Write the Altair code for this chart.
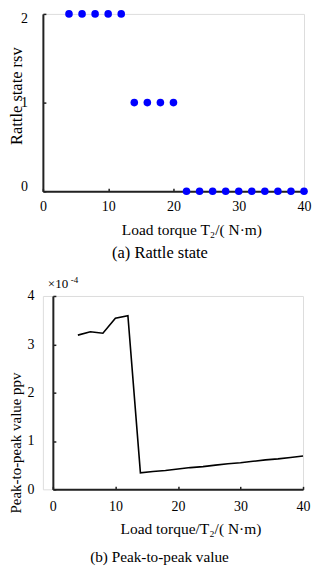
import altair as alt
import pandas as pd

# (a) Rattle state
torque_a = [4, 6, 8, 10, 12, 14, 16, 18, 20, 22, 24, 26, 28, 30, 32, 34, 36, 38, 40]
rsv = [2, 2, 2, 2, 2, 1, 1, 1, 1, 0, 0, 0, 0, 0, 0, 0, 0, 0, 0]

# (b) Peak-to-peak value (x1e-4)
torque_b = [4, 6, 8, 10, 12, 14, 16, 18, 20, 22, 24, 26, 28, 30, 32, 34, 36, 38, 40]
ppv = [3.19, 3.26, 3.23, 3.54, 3.59, 0.34, 0.37, 0.39, 0.42, 0.45, 0.47, 0.50,
       0.53, 0.55, 0.58, 0.61, 0.63, 0.66, 0.69]

ticks_x = [0, 10, 20, 30, 40]
ticks_a_y = [0, 1, 2]
ticks_b_y = [0, 1, 2, 3, 4]

FONT = "Liberation Serif"
AX = "#222222"

df_a = pd.DataFrame({"T": torque_a, "rsv": rsv})
df_b = pd.DataFrame({"T": torque_b, "ppv": ppv})
df_ylab_a = pd.DataFrame({"v": ticks_a_y})

axis_common = dict(
    labelFont=FONT, labelFontSize=14, labelColor="black", labelOverlap=False,
    titleFont=FONT, titleFontWeight="normal", titleColor="black",
    domainColor=AX, domainWidth=2, ticks=False, grid=False,
)


def inner_ticks(values, orient, offset):
    return alt.Axis(values=values, orient=orient, offset=offset, domain=False, labels=False,
                    ticks=True, tickSize=3, tickWidth=1.5, tickColor=AX, grid=False, title=None)


xa_scale = alt.Scale(domain=[0, 40], nice=False)
ya_scale = alt.Scale(domain=[0, 2], nice=False)

points_a = alt.Chart(df_a).mark_circle(size=58, color="#0000ff", opacity=1, clip=False).encode(
    x=alt.X("T:Q", scale=xa_scale,
            axis=alt.Axis(orient="bottom", values=ticks_x, title="Load torque T₂/( N·m)",
                          labelPadding=8, labelFlush=False, titleFontSize=15.5, titleX=149,
                          titlePadding=9, **axis_common)),
    y=alt.Y("rsv:Q", scale=ya_scale,
            axis=alt.Axis(orient="left", values=ticks_a_y, labels=False, title="Rattle state rsv",
                          titleFontSize=16.5, titleX=-18, titleY=82, **axis_common)),
)

ticks_a = alt.Chart(df_a).mark_point(opacity=0).encode(
    x=alt.X("T:Q", scale=xa_scale, axis=inner_ticks(ticks_x, "bottom", -3)),
    y=alt.Y("rsv:Q", scale=ya_scale, axis=inner_ticks(ticks_a_y, "left", -3)),
)


def ylabel_layer(value, baseline, dy):
    return alt.Chart(df_ylab_a).transform_filter(alt.datum.v == value).mark_text(
        font=FONT, fontSize=14, align="right", baseline=baseline, dy=dy, color="black"
    ).encode(
        x=alt.value(-15),
        y=alt.Y("v:Q", scale=ya_scale, axis=None),
        text=alt.Text("v:Q", format="d"),
    )


ylab_top = ylabel_layer(2, "top", -2)
ylab_mid = ylabel_layer(1, "middle", 0)
ylab_bot = ylabel_layer(0, "bottom", 3)

chart_a = alt.layer(ticks_a, points_a, ylab_top, ylab_mid, ylab_bot).resolve_axis(
    x="independent", y="independent"
).properties(
    width=262, height=178,
    title=alt.TitleParams("(a) Rattle state", orient="bottom", font=FONT, fontSize=16.5,
                          fontWeight="normal", color="black", offset=7, frame="bounds"),
)

xb_scale = alt.Scale(domain=[0, 40], range=[10, 261], nice=False)
yb_scale = alt.Scale(domain=[0, 4], nice=False)

line_b = alt.Chart(df_b).mark_line(color="black", strokeWidth=1.6).encode(
    x=alt.X("T:Q", scale=xb_scale,
            axis=alt.Axis(orient="bottom", values=ticks_x, title="Load torque/T₂/( N·m)",
                          labelPadding=10, labelFlush=False, titleFontSize=15.5, titleX=148,
                          titlePadding=8, **axis_common)),
    y=alt.Y("ppv:Q", scale=yb_scale,
            axis=alt.Axis(orient="left", values=ticks_b_y, format="d",
                          title="Peak-to-peak value ppv", labelPadding=19, labelFlush=False,
                          titleFontSize=15, offset=-10, titleX=-29, titleY=147, **axis_common)),
)

ticks_b = alt.Chart(df_b).mark_point(opacity=0).encode(
    x=alt.X("T:Q", scale=xb_scale, axis=inner_ticks(ticks_x, "bottom", -3)),
    y=alt.Y("ppv:Q", scale=yb_scale, axis=inner_ticks(ticks_b_y, "left", -13)),
)

exp_main = alt.Chart(pd.DataFrame({"t": ["×10"]})).mark_text(
    font=FONT, fontSize=13, align="left", baseline="middle", color="black"
).encode(x=alt.value(5), y=alt.value(-12), text="t:N")

exp_sup = alt.Chart(pd.DataFrame({"t": ["-4"]})).mark_text(
    font=FONT, fontSize=9, align="left", baseline="middle", color="black"
).encode(x=alt.value(28), y=alt.value(-16), text="t:N")

chart_b = alt.layer(ticks_b, line_b, exp_main, exp_sup).resolve_axis(
    x="independent", y="independent"
).properties(
    width=261, height=194,
    title=alt.TitleParams("(b) Peak-to-peak value", orient="bottom", font=FONT, fontSize=15.3,
                          fontWeight="normal", color="black", offset=13, frame="bounds"),
)

chart = alt.vconcat(chart_a, chart_b, spacing=13).properties(
    padding={"left": 0, "top": 0, "right": 0, "bottom": 0}
).configure_view(stroke=None).configure(background="white")

chart.save("out.html", embed_options={"renderer": "svg", "actions": False})
